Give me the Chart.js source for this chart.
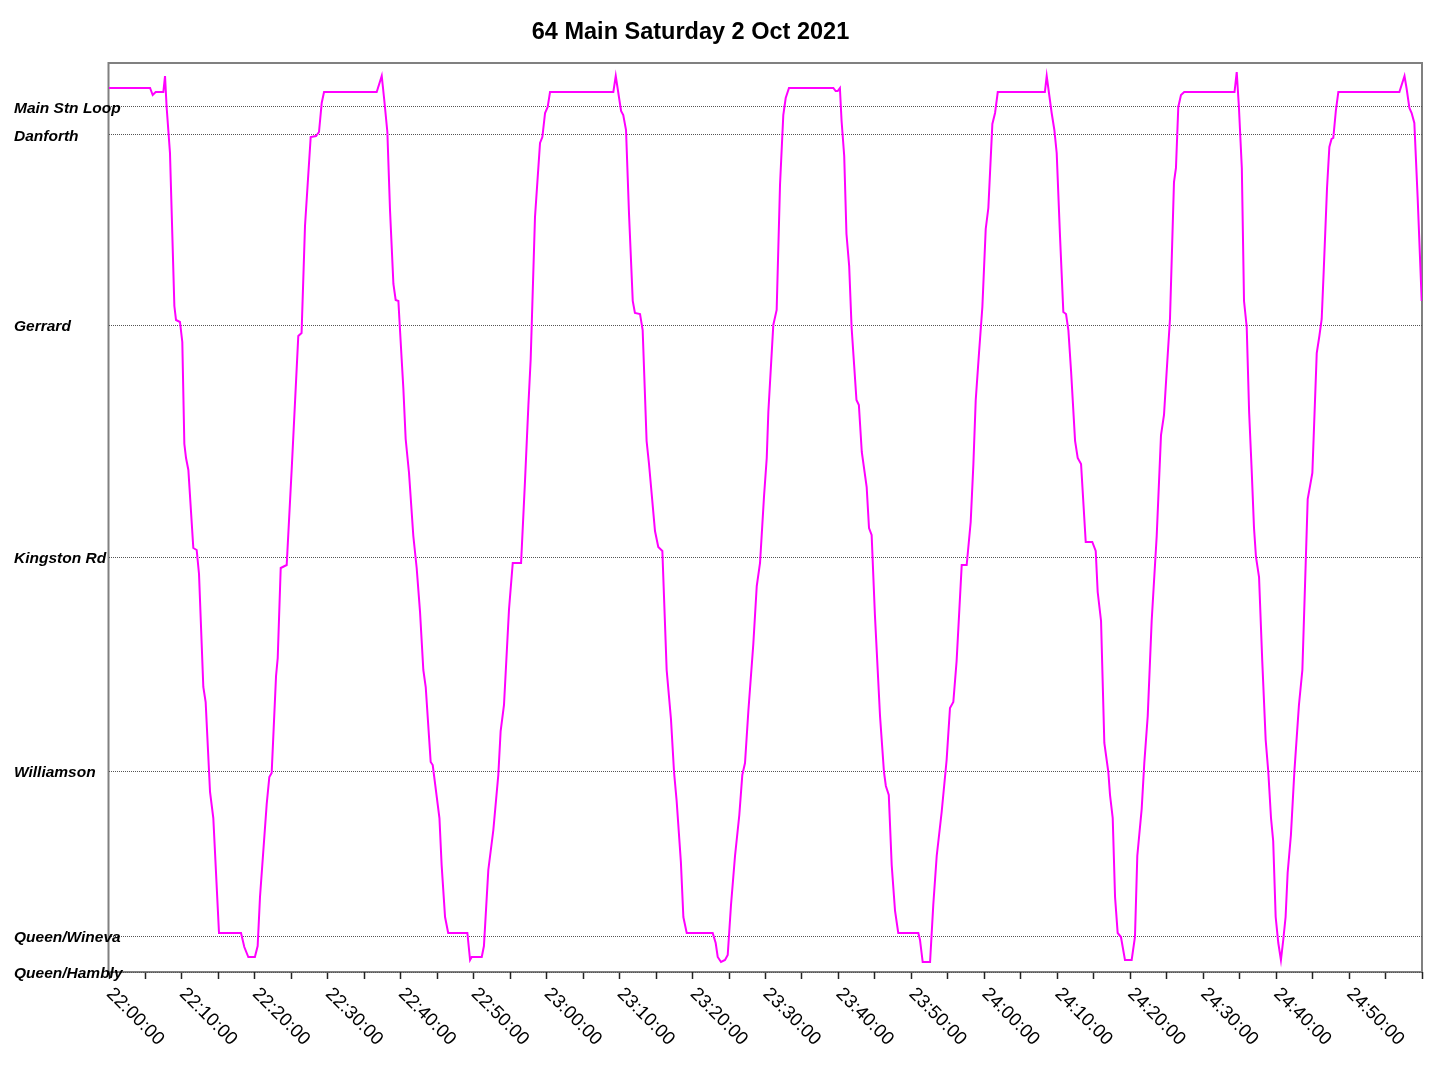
<!DOCTYPE html>
<html>
<head>
<meta charset="utf-8">
<script src="https://cdn.jsdelivr.net/npm/chart.js@4/dist/chart.umd.min.js"></script>
<style>
  html, body { margin: 0; padding: 0; background: #ffffff; }
  #wrap { position: relative; width: 1435px; height: 1067px; }
</style>
</head>
<body>
<div id="wrap"><canvas id="c"></canvas></div>
<script>
// ---- Data ----
const chartTitle = "64 Main Saturday 2 Oct 2021";

// Stops along the route (position units along the line, bottom = Queen/Hambly)
const stopNames = ["Queen/Hambly", "Queen/Wineva", "Williamson", "Kingston Rd", "Gerrard", "Danforth", "Main Stn Loop"];
const stopPositions = [0, 36, 201, 415, 647, 837, 865];

// X tick labels (minutes after 22:00)
const tickMinutes = [0, 10, 20, 30, 40, 50, 60, 70, 80, 90, 100, 110, 120, 130, 140, 150, 160, 170];
const tickLabels = ["22:00:00", "22:10:00", "22:20:00", "22:30:00", "22:40:00", "22:50:00",
                    "23:00:00", "23:10:00", "23:20:00", "23:30:00", "23:40:00", "23:50:00",
                    "24:00:00", "24:10:00", "24:20:00", "24:30:00", "24:40:00", "24:50:00"];

// Vehicle trace: time (minutes after 22:00) and position
const traceMinutes = [
  0, 5.63, 5.99, 6.4, 7.45, 7.68, 7.9, 8.36, 8.96, 9.19, 9.73, 10.05, 10.33, 10.56, 10.88, 11.56, 12.02, 12.34, 12.93, 13.25,
  13.85, 14.3, 15.08, 18.1, 18.55, 19.1, 20.0, 20.38, 20.7, 21.62, 21.98, 22.3, 22.9, 23.13, 23.54, 24.36, 25.04, 25.95, 26.4, 26.87,
  27.65, 28.38, 28.79, 29.16, 29.48,
  36.7, 37.39, 37.75, 38.16, 38.53, 38.99, 39.3, 39.67, 40.12, 40.35, 40.67, 41.13, 41.72, 42.18, 42.64, 43.09, 43.42, 44.1, 44.38,
  45.3, 45.6, 46.07, 46.5, 49.13, 49.5, 49.72, 51.1, 51.4, 52.0, 52.69, 53.37, 53.69, 54.15, 54.84, 55.35, 56.49, 57.03, 57.49,
  57.81, 58.4, 59.09, 59.41, 59.78, 60.14, 60.46,
  69.14, 69.47, 70.2, 70.5, 70.88, 71.29, 71.8, 72.1, 72.8, 73.16, 73.7, 74.03, 74.85, 75.3, 75.86, 76.45, 77.04, 77.46, 77.82,
  78.4, 78.74, 79.2, 82.76, 83.17, 83.45, 83.9, 84.45, 84.82, 85.27, 85.82, 86.41, 86.82, 87.19, 87.65, 88.33, 88.8, 89.25, 89.8,
  90.17, 90.39, 91.07, 91.53, 91.99, 92.44, 92.77, 93.22,
  99.3, 99.62, 99.9, 100.2, 100.43, 100.79, 101.1, 101.47, 101.8, 102.15, 102.47, 102.8, 103.2, 103.87, 104.19, 104.55, 105,
  105.7, 106.24, 106.5, 106.9, 107.3, 107.76, 108.2, 110.95, 111.18, 111.55, 112.56, 113.0, 113.47, 114.15, 114.83, 115.29, 115.75,
  116.2, 116.58, 116.9, 117.58, 118.13, 118.5, 118.82, 119.27, 119.73, 120.19, 120.55, 121.1, 121.47, 121.84,
  128.3, 128.55, 129.23, 129.6, 129.92, 130.38, 130.83, 131.2, 131.52, 131.89, 132.44, 132.8, 133.26, 133.9, 134.8, 135.27,
  135.54, 136, 136.45, 137, 137.23, 137.6, 137.92, 138.28, 138.73, 139.28, 140.2, 140.65, 140.97, 141.57, 141.93, 142.4, 142.94,
  143.63, 144.22, 144.63, 145, 145.45, 146, 146.27, 146.59, 146.96, 147.4,
  154.3, 154.6, 154.9, 155.3, 155.6, 155.97, 156.3, 156.65, 156.97, 157.24, 157.66, 158.1, 158.57, 158.93, 159.3, 159.6, 159.94,
  160.3, 160.66, 160.98, 161.3, 161.58, 162.03, 162.5, 163.13, 163.6, 163.96, 164.33, 164.97, 165.57, 165.93, 166.25, 166.52,
  166.98, 167.3, 167.6, 167.84, 168.2, 168.53, 176.9, 177.6, 177.9, 178.27, 178.58, 178.95, 179.4, 179.96
];
const tracePositions = [
  884, 884, 877, 880, 880, 896, 865, 819, 666, 652, 650, 630, 528, 514, 502, 424, 422, 398, 285, 270,
  180, 154, 39, 39, 25, 15, 15, 26, 75, 168, 195, 199, 296, 314, 404, 407, 502, 636, 639, 746,
  835, 836, 840, 869, 880,
  880, 896, 871, 840, 761, 688, 672, 671, 613, 584, 533, 499, 436, 404, 360, 302, 285, 210, 207,
  154, 107, 55, 39, 39, 12, 15, 15, 26, 102, 142, 197, 241, 267, 363, 409, 409, 491, 566,
  613, 755, 829, 835, 859, 865, 880,
  880, 896, 861, 857, 842, 758, 671, 659, 658, 642, 531, 508, 441, 425, 421, 302, 253, 200, 171,
  110, 55, 39, 39, 29, 15, 10, 12, 17, 67, 116, 157, 197, 209, 261, 328, 386, 409, 476,
  514, 560, 647, 662, 787, 857, 874, 884,
  884, 881, 881, 884, 851, 816, 738, 706, 645, 607, 572, 567, 520, 485, 444, 437, 357,
  256, 200, 186, 177, 107, 61, 39, 39, 32, 10, 10, 67, 116, 160, 212, 264, 270,
  311, 363, 407, 407, 450, 508, 572, 619, 665, 743, 764, 848, 859, 880,
  880, 896, 859, 842, 819, 735, 660, 658, 642, 601, 531, 514, 508, 430, 430, 421,
  380, 351, 229, 200, 177, 154, 75, 39, 35, 12, 12, 35, 116, 163, 209, 256, 351,
  436, 537, 557, 601, 653, 790, 804, 865, 877, 880,
  880, 900, 865, 804, 671, 645, 560, 502, 444, 415, 395, 311, 232, 200, 154, 131, 55,
  29, 12, 32, 55, 99, 137, 200, 267, 302, 386, 473, 499, 619, 636, 653, 700,
  784, 825, 833, 834, 862, 880, 880, 896, 883, 864, 859, 849, 775, 671
];

// ---- Chart ----
const FONT = '"Liberation Sans", Arial, Helvetica, sans-serif';
const points = traceMinutes.map((m, i) => ({ x: m, y: tracePositions[i] }));

const framePlugin = {
  id: 'frame',
  beforeDraw(chart) {
    const { ctx, chartArea: a } = chart;
    ctx.save();
    ctx.strokeStyle = '#808080';
    ctx.lineWidth = 2;
    ctx.strokeRect(a.left - 0.5, a.top, a.right - a.left + 0.5, a.bottom - a.top);
    ctx.restore();
  }
};

const textPlugin = {
  id: 'texts',
  afterDraw(chart) {
    const { ctx } = chart;
    const xs = chart.scales.x;
    const ys = chart.scales.y;
    ctx.save();
    // title
    ctx.fillStyle = '#000';
    ctx.font = 'bold 23.5px ' + FONT;
    ctx.textAlign = 'center';
    ctx.textBaseline = 'middle';
    ctx.fillText(chartTitle, 690.5, 33);
    // stop labels (y axis)
    ctx.font = 'italic bold 15.5px ' + FONT;
    ctx.textAlign = 'left';
    ctx.textBaseline = 'middle';
    stopPositions.forEach((v, i) => {
      ctx.fillText(stopNames[i], 14, ys.getPixelForValue(v) + 1.5);
    });
    // rotated x tick labels
    ctx.font = '18.7px ' + FONT;
    ctx.textAlign = 'left';
    ctx.textBaseline = 'middle';
    tickMinutes.forEach((m, i) => {
      const px = xs.getPixelForValue(m);
      ctx.save();
      ctx.translate(px + 0.5, 991);
      ctx.rotate(Math.PI / 4);
      ctx.fillText(tickLabels[i], 0, 0);
      ctx.restore();
    });
    ctx.restore();
  }
};

new Chart(document.getElementById('c'), {
  type: 'line',
  data: {
    datasets: [{
      data: points,
      borderColor: '#ff00ff',
      borderWidth: 2,
      pointRadius: 0,
      tension: 0,
      fill: false
    }]
  },
  options: {
    responsive: true,
    maintainAspectRatio: false,
    animation: false,
    events: [],
    layout: { padding: { left: 14, right: 13, top: 63, bottom: 0 } },
    plugins: {
      legend: { display: false },
      title: { display: false },
      tooltip: { enabled: false }
    },
    scales: {
      x: {
        type: 'linear',
        min: 0,
        max: 180,
        afterFit(scale) { scale.height = 95; },
        border: { display: false },
        grid: {
          drawOnChartArea: false,
          drawTicks: true,
          tickLength: 7,
          tickColor: '#222',
          tickWidth: 1.5
        },
        ticks: { display: false, stepSize: 5, autoSkip: false }
      },
      y: {
        type: 'linear',
        min: 0,
        max: 909,
        afterFit(scale) { scale.width = 95; },
        afterBuildTicks(scale) { scale.ticks = stopPositions.map(v => ({ value: v })); },
        border: { display: false, dash: [1, 1] },
        grid: {
          color: '#555',
          lineWidth: 1,
          drawTicks: false,
          tickLength: 0
        },
        ticks: { display: false, autoSkip: false }
      }
    }
  },
  plugins: [framePlugin, textPlugin]
});
</script>
</body>
</html>
